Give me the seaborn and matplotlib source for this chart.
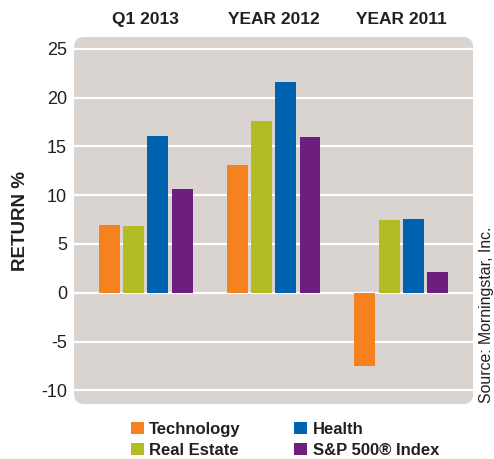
import matplotlib
matplotlib.use("Agg")
import matplotlib.pyplot as plt
from matplotlib.patches import FancyBboxPatch, Patch
import seaborn as sns
import pandas as pd

periods = ["Q1 2013", "YEAR 2012", "YEAR 2011"]
sectors = ["Technology", "Real Estate", "Health", "S&P 500® Index"]
technology = [6.9, 13.1, -7.5]
real_estate = [6.8, 17.6, 7.5]
health = [16.1, 21.6, 7.6]
sp500 = [10.6, 16.0, 2.1]
colors = ["#f5821f", "#b1bd22", "#0063af", "#6d1f7d"]
yticks = [-10, -5, 0, 5, 10, 15, 20, 25]

rows = []
for name, vals in zip(sectors, [technology, real_estate, health, sp500]):
    for p, v in zip(periods, vals):
        rows.append({"period": p, "sector": name, "value": v})
df = pd.DataFrame(rows)

sns.set_theme(style="white")
plt.rcParams["font.family"] = ["Liberation Sans", "DejaVu Sans"]

fig = plt.figure(figsize=(4.94, 4.59), dpi=100)
ax = fig.add_axes([0.1498, 0.1198, 0.8077, 0.7996])
ax.set_facecolor("none")

# rounded grey panel behind the plot area
panel = FancyBboxPatch((0, 0), 1, 1, boxstyle="round,pad=0,rounding_size=0.025",
                       transform=ax.transAxes, facecolor="#d9d4d0",
                       edgecolor="none", zorder=-5, clip_on=False,
                       mutation_aspect=399 / 367)
ax.add_patch(panel)

for y in yticks:
    ax.axhline(y, color="white", lw=1.6, zorder=0)

sns.barplot(data=df, x="period", y="value", hue="sector", order=periods,
            hue_order=sectors, palette=colors, width=0.76, gap=0.14,
            saturation=1, ax=ax, legend=False, zorder=2,
            edgecolor="none", linewidth=0)

ax.set_xlim(-0.56, 2.56)
ax.set_ylim(-11.4, 26.2)
ax.set_yticks(yticks)
ax.set_yticklabels([str(t) for t in yticks], fontsize=13, color="#231f20")
ax.xaxis.tick_top()
ax.tick_params(axis="x", length=0, pad=7, labelsize=12.5, colors="#231f20")
for lbl in ax.get_xticklabels():
    lbl.set_fontweight("bold")
ax.tick_params(axis="y", length=0, pad=5)
ax.set_xlabel("")
ax.set_ylabel("RETURN %", fontsize=13.5, fontweight="bold", color="#231f20",
              labelpad=9)
for s in ax.spines.values():
    s.set_visible(False)
ax.grid(False)

fig.text(0.985, 0.122, "Source: Morningstar, Inc.", rotation=90, ha="center",
         va="bottom", fontsize=11.4, color="#231f20")

handles = [Patch(facecolor=c, edgecolor="none") for c in colors]
fig.legend(handles, sectors, loc="center", bbox_to_anchor=(0.577, 0.042),
           ncol=2, frameon=False, handlelength=0.75, handleheight=0.75,
           handletextpad=0.35, columnspacing=3.2, labelspacing=0.35,
           borderpad=0.2,
           prop={"family": "Liberation Sans", "weight": "bold", "size": 12},
           labelcolor="#231f20")

fig.savefig("out.png", dpi=100)
